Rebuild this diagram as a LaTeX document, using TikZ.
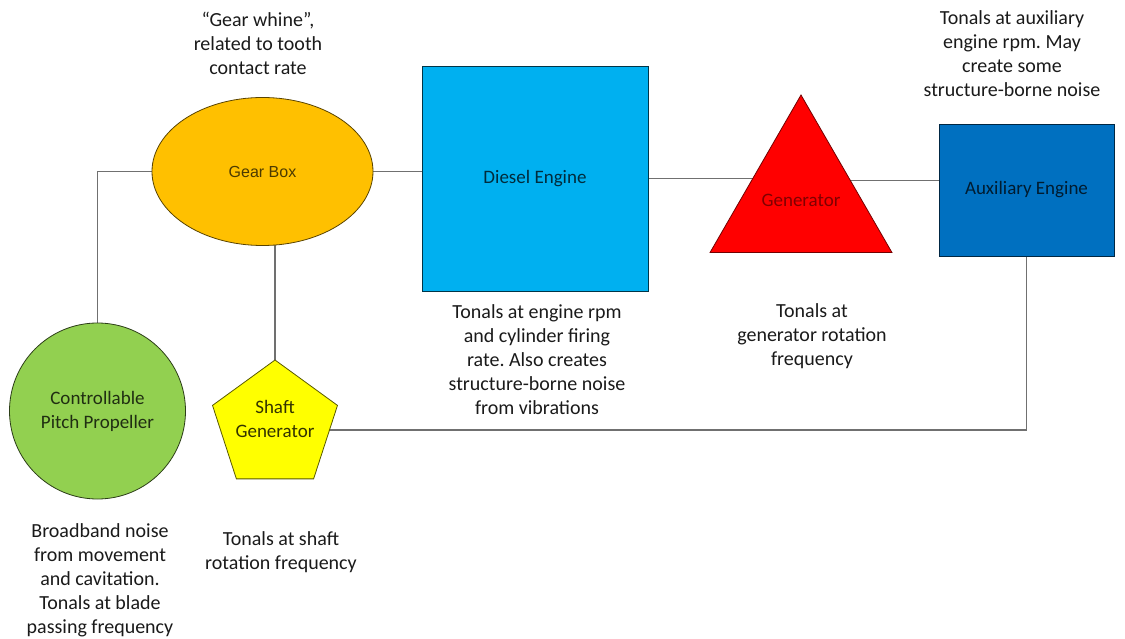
\documentclass[tikz,border=0pt]{standalone}
\usepackage{fontspec}
\setmainfont{Carlito}
\newfontfamily\arialfont{Liberation Sans}
\usetikzlibrary{shapes.geometric}
\pgfdeclarelayer{background}
\pgfsetlayers{background,main}
\frenchspacing

\definecolor{gearfill}{HTML}{FFC000}
\definecolor{dieselfill}{HTML}{00B0F0}
\definecolor{genfill}{HTML}{FF0000}
\definecolor{auxfill}{HTML}{0070C0}
\definecolor{propfill}{HTML}{92D050}
\definecolor{shaftfill}{HTML}{FFFF00}
\definecolor{wire}{HTML}{707070}
\definecolor{notetext}{HTML}{1A1A1A}

\tikzset{
  unit/.style={draw, line width=0.8pt, inner sep=0pt, align=center,
    font=\fontsize{19}{24}\selectfont},
  inlabel/.style={align=center, inner sep=0pt,
    font=\fontsize{19}{24}\selectfont},
  note/.style={align=center, inner sep=0pt, text=notetext,
    font=\fontsize{20}{24}\selectfont},
  wireline/.style={draw=wire, line width=1.4pt},
}

\begin{document}
\begin{tikzpicture}[x=1pt, y=-1pt]
\useasboundingbox (0,0) rectangle (1125,639);

% machinery
\node[unit, ellipse, fill=gearfill, draw=gearfill!35!black,
      minimum width=221pt, minimum height=148pt,
      text=gearfill!30!black, font=\arialfont\fontsize{16}{19}\selectfont]
      (gear) at (262.5,171.5) {Gear Box};
\node[unit, rectangle, fill=dieselfill, draw=dieselfill!30!black,
      minimum width=226pt, minimum height=225pt, text=dieselfill!25!black]
      (diesel) at (535,178.5) {Diesel Engine};
\node[unit, regular polygon, regular polygon sides=3, fill=genfill,
      draw=genfill!45!black, minimum size=210pt,
      label={[inlabel, text=genfill!50!black]center:Generator}]
      (gen) at (801,200) {};
\node[unit, rectangle, fill=auxfill, draw=auxfill!35!black,
      minimum width=175pt, minimum height=132pt, text=auxfill!25!black]
      (aux) at (1026.5,190) {Auxiliary Engine};
\node[unit, circle, fill=propfill, draw=propfill!30!black,
      minimum size=176pt, text=propfill!22!black]
      (prop) at (97.5,411) {Controllable\\Pitch Propeller};
\node[unit, regular polygon, regular polygon sides=5, fill=shaftfill,
      draw=shaftfill!35!black, minimum size=131.4pt,
      label={[inlabel, yshift=7pt, text=shaftfill!20!black]center:Shaft\\Generator}]
      (shaft) at (275,425.7) {};

% connections, kept under the shapes
\begin{pgfonlayer}{background}
  \draw[wireline] (gear.west) -| (prop.north);
  \draw[wireline] (gear.east) -- (gear.east -| diesel.west);
  \draw[wireline] (shaft.north) -- (shaft.north |- gear.center);
  \coordinate (dg) at (diesel.east -| gen.center);
  \draw[wireline] (diesel.east) -- (dg);
  \draw[wireline] ([yshift=-2pt]dg) -- ([yshift=-2pt]dg -| aux.west);
  \draw[wireline] ([yshift=-4.3pt]shaft.center) -| (aux.south);
\end{pgfonlayer}

% annotations
\node[note] (gearnote) at (258,43.5) {``Gear whine'',\\related to tooth\\contact rate};
\node[note] (auxnote) at (1012,54) {Tonals at auxiliary\\engine rpm. May\\create some\\structure-borne noise};
\node[note] (dieselnote) at (537,360) {Tonals at engine rpm\\and cylinder firing\\rate. Also creates\\structure-borne noise\\from vibrations};
\node[note] (gennote) at (812,336) {Tonals at\\generator rotation\\frequency};
\node[note] (propnote) at (100,580.5) {Broadband noise\\from movement\\and cavitation.\\Tonals at blade\\passing frequency};
\node[note] (shaftnote) at (281,552) {Tonals at shaft\\rotation frequency};
\end{tikzpicture}
\end{document}
